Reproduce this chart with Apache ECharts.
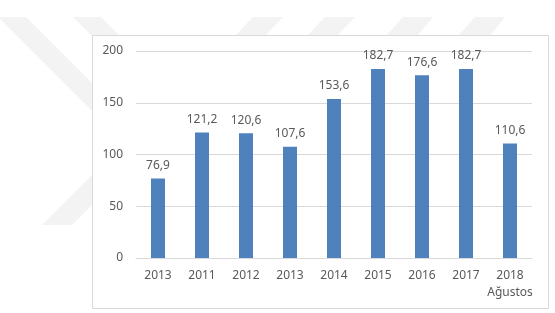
<!DOCTYPE html>
<html lang="tr">
<head>
    <meta charset="utf-8">
    <script src="https://cdn.jsdelivr.net/npm/echarts@6/dist/echarts.min.js"></script>
    <style>
        html, body { margin: 0; padding: 0; background: #fff; }
        #chart { width: 555px; height: 313px; }
    </style>
</head>
<body>
<div id="chart"></div>
<script>
    var categories = ['2013', '2011', '2012', '2013', '2014', '2015', '2016', '2017', '2018\nAğustos'];
    var values = [76.9, 121.2, 120.6, 107.6, 153.6, 182.7, 176.6, 182.7, 110.6];
    var yTicks = [0, 50, 100, 150, 200];

    var textColor = '#595959';
    var lineColor = '#d9d9d9';
    var wmColor = '#f3f3f3';

    // faint watermark behind the chart box
    function band(pts) {
        return { type: 'polygon', z: 0, shape: { points: pts }, style: { fill: wmColor } };
    }

    var chart = echarts.init(document.getElementById('chart'));
    chart.setOption({
        animation: false,
        backgroundColor: '#fff',
        textStyle: { fontFamily: 'Noto Sans' },
        graphic: [
            band([[-2, 17], [26, 17], [120, 111], [92, 111]]),
            band([[73, 17], [101, 17], [130, 46], [102, 46]]),
            band([[42, 225], [72, 225], [140, 157], [110, 157]]),
            band([[253, 17], [283, 17], [265, 36], [235, 36]]),
            band([[325, 17], [355, 17], [337, 36], [307, 36]]),
            band([[403, 17], [433, 17], [417, 36], [386, 36]]),
            band([[475, 17], [505, 17], [490, 36], [458, 36]]),
            {
                type: 'rect', z: 1,
                shape: { x: 92.5, y: 35.5, width: 456, height: 273 },
                style: { fill: '#fff', stroke: lineColor, lineWidth: 1 }
            }
        ],
        grid: { left: 136, right: 23, top: 51, bottom: 55 },
        xAxis: {
            type: 'category',
            data: categories,
            axisLine: { lineStyle: { color: lineColor } },
            axisTick: { show: false },
            axisLabel: { color: textColor, fontSize: 12, lineHeight: 17, margin: 9, interval: 0 },
            z: 5
        },
        yAxis: {
            type: 'value',
            min: yTicks[0],
            max: yTicks[yTicks.length - 1],
            interval: 50,
            axisLine: { show: false },
            axisTick: { show: false },
            axisLabel: { color: textColor, fontSize: 12, margin: 13 },
            splitLine: { lineStyle: { color: lineColor } },
            z: 5
        },
        series: [{
            type: 'bar',
            data: values,
            barWidth: 14,
            z: 6,
            itemStyle: { color: '#4f81bd' },
            label: {
                show: true,
                position: 'top',
                distance: 7,
                color: textColor,
                fontSize: 12,
                formatter: function (p) { return String(p.value).replace('.', ','); }
            }
        }]
    });
</script>
</body>
</html>
